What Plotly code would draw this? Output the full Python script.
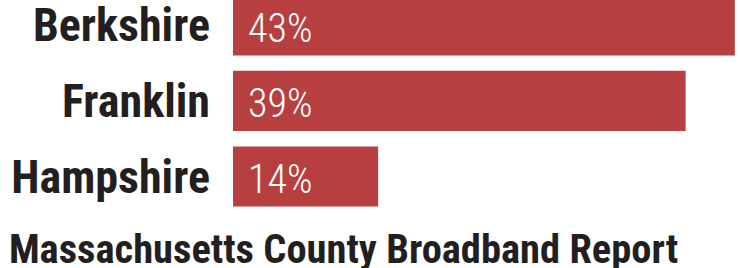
import plotly.graph_objects as go

counties = ["Berkshire", "Franklin", "Hampshire"]
values = [43, 39, 14]
title_text = "Massachusetts County Broadband Report"

BAR = "#b73f3f"
INK = "#231f20"
FONT = "Roboto Condensed"
X_RANGE = [2.2, 43.42]

fig = go.Figure()
fig.add_trace(
    go.Bar(
        x=values,
        y=counties,
        orientation="h",
        marker=dict(color=BAR, line=dict(width=0)),
        width=0.795,
        hoverinfo="skip",
    )
)

# value labels, left-aligned at the visible start of each bar
for county, v in zip(counties, values):
    fig.add_annotation(
        x=X_RANGE[0], y=county, xref="x", yref="y",
        text=f"{v}%",
        showarrow=False,
        xanchor="left", yanchor="middle",
        xshift=13, yshift=-3,
        font=dict(family=FONT, size=40, color="white", weight=300),
    )

fig.update_layout(
    width=740,
    height=268,
    margin=dict(l=233, r=0, t=0, b=58, autoexpand=False),
    paper_bgcolor="white",
    plot_bgcolor="white",
    showlegend=False,
    title=dict(
        text=title_text,
        font=dict(family=FONT, size=40.5, color=INK, weight="bold"),
        xref="container", x=0.012, xanchor="left",
        yref="container", y=0.0, yanchor="bottom",
        pad=dict(b=5, l=0),
    ),
    xaxis=dict(range=X_RANGE, visible=False, fixedrange=True),
    yaxis=dict(
        categoryorder="array",
        categoryarray=counties,
        range=[2.445, -0.336],
        automargin=False,
        showgrid=False,
        zeroline=False,
        showline=False,
        ticks="",
        ticklabelstandoff=22,
        tickfont=dict(family=FONT, size=46, color=INK, weight="bold"),
        fixedrange=True,
    ),
)

fig.write_html(
    "out.html",
    config={"displayModeBar": False},
    post_script="document.body.style.margin='0';document.body.style.padding='0';",
)
